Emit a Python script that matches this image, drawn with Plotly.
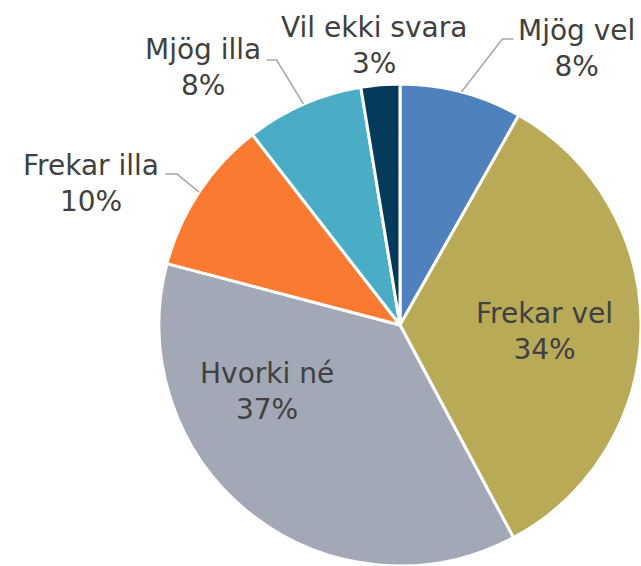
import math
import plotly.graph_objects as go

labels = ["Mjög vel", "Frekar vel", "Hvorki né", "Frekar illa", "Mjög illa", "Vil ekki svara"]
values = [8.2, 34.0, 36.9, 10.4, 7.9, 2.6]
colors = ["#4F81BD", "#B9AA58", "#A2A8B5", "#FB7A31", "#4BACC6", "#063A5A"]

# ---- layout / style parameters (pixels) ----
W, H = 641, 566
CX, CY, R = 400, 325, 241
FONT = dict(family="DejaVu Sans", size=28, color="#404040")
LINE_COLOR = "#A6A6A6"

# label placement styles per slice
# inside: (angle offset deg, radius fraction)
# leader: (elbow dx, elbow dy, tail length, text gap, text dy)
# above: (text dx, text dy)
label_style = [
    ("leader", (41, -53, 11, 3, 10)),
    ("inside", (2.0, 0.602)),
    ("inside", (25.0, 0.616)),
    ("leader", (-22, -18, 12, 4, 9)),
    ("leader", (-27, -44, 10, 4, 7)),
    ("above", (-6, -39)),
]


def to_paper(x, y):
    return x / W, 1 - y / H


def polar(angle_deg, rr):
    a = math.radians(angle_deg)
    return CX + rr * math.sin(a), CY - rr * math.cos(a)


total = sum(values)
mids = []
cum = 0.0
for v in values:
    mids.append((cum + v / 2) / total * 360)
    cum += v

fig = go.Figure(go.Pie(
    labels=labels,
    values=values,
    sort=False,
    direction="clockwise",
    rotation=0,
    marker=dict(colors=colors, line=dict(color="white", width=3)),
    textinfo="none",
    domain=dict(x=[(CX - R) / W, (CX + R) / W], y=[(H - CY - R) / H, (H - CY + R) / H]),
    showlegend=False,
    hoverinfo="label+percent",
))

annotations = []
shapes = []
for lab, v, mid, (kind, p) in zip(labels, values, mids, label_style):
    text = f"{lab}<br>{round(v / total * 100)}%"
    if kind == "inside":
        x, y = polar(mid + p[0], R * p[1])
        xa = "center"
    elif kind == "above":
        ex, ey = polar(mid, R)
        x, y = ex + p[0], ey + p[1]
        xa = "center"
    else:
        ex, ey = polar(mid, R)
        bx, by = ex + p[0], ey + p[1]
        sign = 1 if p[0] > 0 else -1
        tx = bx + sign * p[2]
        path = "M {:.4f},{:.4f} L {:.4f},{:.4f} L {:.4f},{:.4f}".format(
            *to_paper(ex, ey), *to_paper(bx, by), *to_paper(tx, by))
        shapes.append(dict(type="path", xref="paper", yref="paper", path=path,
                           line=dict(color=LINE_COLOR, width=1.5)))
        x = tx + sign * p[3]
        y = by + p[4]
        xa = "left" if sign > 0 else "right"
    xp, yp = to_paper(x, y)
    annotations.append(dict(x=xp, y=yp, xref="paper", yref="paper", text=text,
                            showarrow=False, xanchor=xa, yanchor="middle",
                            align="center", font=FONT))

fig.update_layout(
    width=W, height=H,
    margin=dict(l=0, r=0, t=0, b=0),
    paper_bgcolor="white",
    plot_bgcolor="white",
    annotations=annotations,
    shapes=shapes,
)

fig.write_html(
    "out.html",
    config={"displayModeBar": False},
    post_script="document.body.style.margin='0';document.body.style.overflow='hidden';",
)
